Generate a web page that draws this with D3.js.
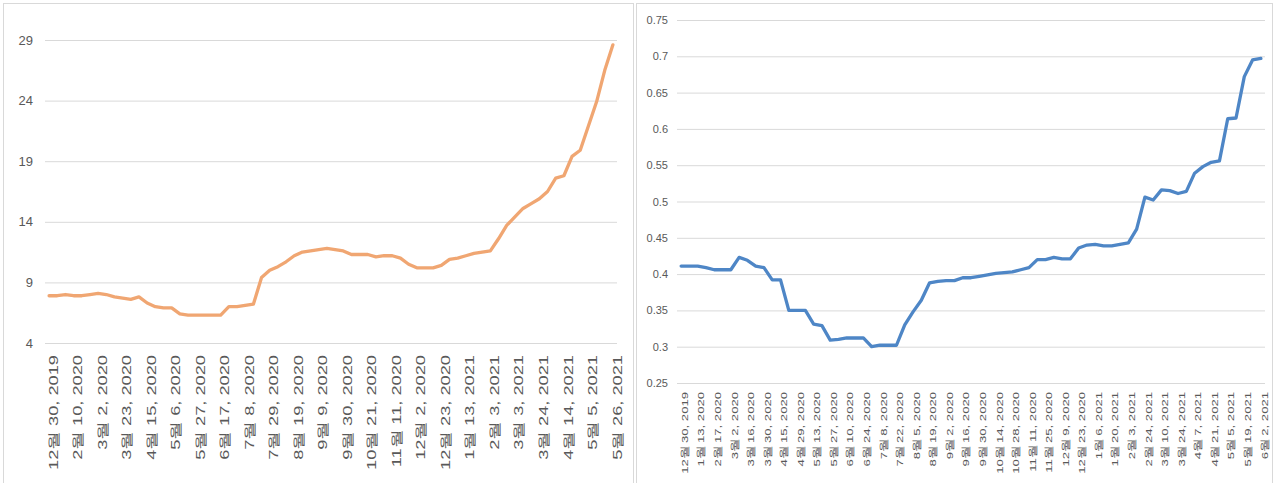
<!DOCTYPE html>
<html>
<head>
<meta charset="utf-8">
<script src="https://cdn.jsdelivr.net/npm/d3@7"></script>
<style>
  body { margin: 0; background: #fff; }
  svg { display: block; font-family: "Noto Sans CJK KR", "Noto Sans", sans-serif; }
</style>
</head>
<body>
<div class="canvas"></div>
<script>
// week labels shared by both charts (category axis)
const dates = [
  "12월 30, 2019", "1월 6, 2020", "1월 13, 2020", "2월 10, 2020", "2월 17, 2020", "2월 24, 2020",
  "3월 2, 2020", "3월 9, 2020", "3월 16, 2020", "3월 23, 2020", "3월 30, 2020", "4월 8, 2020",
  "4월 15, 2020", "4월 22, 2020", "4월 29, 2020", "5월 6, 2020", "5월 13, 2020", "5월 20, 2020",
  "5월 27, 2020", "6월 3, 2020", "6월 10, 2020", "6월 17, 2020", "6월 24, 2020", "7월 1, 2020",
  "7월 8, 2020", "7월 15, 2020", "7월 22, 2020", "7월 29, 2020", "8월 5, 2020", "8월 12, 2020",
  "8월 19, 2020", "8월 26, 2020", "9월 2, 2020", "9월 9, 2020", "9월 16, 2020", "9월 23, 2020",
  "9월 30, 2020", "10월 7, 2020", "10월 14, 2020", "10월 21, 2020", "10월 28, 2020", "11월 4, 2020",
  "11월 11, 2020", "11월 18, 2020", "11월 25, 2020", "12월 2, 2020", "12월 9, 2020", "12월 16, 2020",
  "12월 23, 2020", "12월 30, 2020", "1월 6, 2021", "1월 13, 2021", "1월 20, 2021", "1월 27, 2021",
  "2월 3, 2021", "2월 17, 2021", "2월 24, 2021", "3월 3, 2021", "3월 10, 2021", "3월 17, 2021",
  "3월 24, 2021", "3월 31, 2021", "4월 7, 2021", "4월 14, 2021", "4월 21, 2021", "4월 28, 2021",
  "5월 5, 2021", "5월 12, 2021", "5월 19, 2021", "5월 26, 2021", "6월 2, 2021"
];

const leftValues = [
  7.9, 7.9, 8.0, 7.9, 7.9, 8.0, 8.1, 8.0, 7.8, 7.7,
  7.6, 7.8, 7.3, 7.0, 6.9, 6.9, 6.4, 6.3, 6.3, 6.3,
  6.3, 6.3, 7.0, 7.0, 7.1, 7.2, 9.4, 10.0, 10.3, 10.7,
  11.2, 11.5, 11.6, 11.7, 11.8, 11.7, 11.6, 11.3, 11.3, 11.3,
  11.1, 11.2, 11.2, 11.0, 10.5, 10.2, 10.2, 10.2, 10.4, 10.9,
  11.0, 11.2, 11.4, 11.5, 11.6, 12.6, 13.7, 14.4, 15.1, 15.5,
  15.9, 16.5, 17.6, 17.8, 19.4, 19.9, 21.9, 23.9, 26.5, 28.6
];

const rightValues = [
  0.411, 0.411, 0.411, 0.409, 0.406, 0.406, 0.406, 0.423, 0.419, 0.411,
  0.409, 0.392, 0.392, 0.350, 0.350, 0.350, 0.331, 0.329, 0.309, 0.310,
  0.312, 0.312, 0.312, 0.300, 0.302, 0.302, 0.302, 0.330, 0.348, 0.364,
  0.388, 0.390, 0.391, 0.391, 0.395, 0.395, 0.397, 0.399, 0.401, 0.402,
  0.403, 0.406, 0.409, 0.420, 0.420, 0.423, 0.421, 0.421, 0.436, 0.440,
  0.441, 0.439, 0.439, 0.441, 0.443, 0.462, 0.506, 0.502, 0.516, 0.515,
  0.511, 0.514, 0.539, 0.548, 0.554, 0.556, 0.614, 0.615, 0.672, 0.695,
  0.697
];

const leftTicks = [4, 9, 14, 19, 24, 29];
const rightTicks = [0.25, 0.3, 0.35, 0.4, 0.45, 0.5, 0.55, 0.6, 0.65, 0.7, 0.75];

const svg = d3.select('.canvas')
  .append('svg')
  .attr('width', 1276)
  .attr('height', 483)

// panel frames
svg.append('rect')
  .attr('x', 3.5).attr('y', 3.5)
  .attr('width', 630).attr('height', 485)
  .attr('fill', 'none').attr('stroke', '#d9d9d9')
svg.append('rect')
  .attr('x', 636.5).attr('y', 3.5)
  .attr('width', 636).attr('height', 485)
  .attr('fill', 'none').attr('stroke', '#d9d9d9')

const drawChart = (opt) => {
  const labels = dates.slice(0, opt.values.length);

  const x = d3.scalePoint()
    .domain(labels)
    .range([opt.x0, opt.x1])
    .padding(0.5)

  const y = d3.scaleLinear()
    .domain(opt.domain)
    .range([opt.y0, opt.y1])

  const g = svg.append('g');

  // gridlines + y labels
  const yAxis = g.append('g')
    .attr('transform', `translate(${opt.x0},0)`)
    .call(d3.axisLeft(y)
      .tickValues(opt.ticks)
      .tickSize(-(opt.x1 - opt.x0))
      .tickPadding(opt.yPad)
      .tickFormat(d => String(+d.toFixed(2))))
  yAxis.select('.domain').remove()
  yAxis.selectAll('line').attr('stroke', '#d9d9d9')
  yAxis.selectAll('text')
    .attr('fill', '#595959')
    .style('font-size', opt.yFont + 'px')

  // category labels
  const xAxis = g.append('g')
    .attr('transform', `translate(0,${opt.y0})`)
    .call(d3.axisBottom(x)
      .tickValues(labels.filter((d, i) => i % opt.every === 0))
      .tickSize(0))
  xAxis.select('.domain').remove()
  xAxis.selectAll('text')
    .attr('fill', '#595959')
    .attr('x', 0)
    .attr('y', 0)
    .attr('dy', '0.65em')
    .attr('transform', `rotate(-90) translate(${-opt.xOff},0) scale(${opt.stretch},1)`)
    .style('text-anchor', 'end')
    .style('font-size', opt.xFont + 'px')

  const line = d3.line()
    .x((d, i) => x(labels[i]))
    .y(d => y(d))

  g.append('path')
    .datum(opt.values)
    .attr('d', line)
    .attr('fill', 'none')
    .attr('stroke', opt.color)
    .attr('stroke-width', 3.3)
    .attr('stroke-linejoin', 'round')
    .attr('stroke-linecap', 'round')
}

drawChart({
  values: leftValues, ticks: leftTicks, domain: [4, 29],
  x0: 45, x1: 617, y0: 343, y1: 40,
  every: 3, yFont: 13, xFont: 12.5, yPad: 12, xOff: 12, stretch: 1.46,
  color: '#F0A672'
})

drawChart({
  values: rightValues, ticks: rightTicks, domain: [0.25, 0.75],
  x0: 677, x1: 1265, y0: 383, y1: 20,
  every: 2, yFont: 11, xFont: 9.5, yPad: 9, xOff: 9, stretch: 1.38,
  color: '#4E86C6'
})
</script>
</body>
</html>
